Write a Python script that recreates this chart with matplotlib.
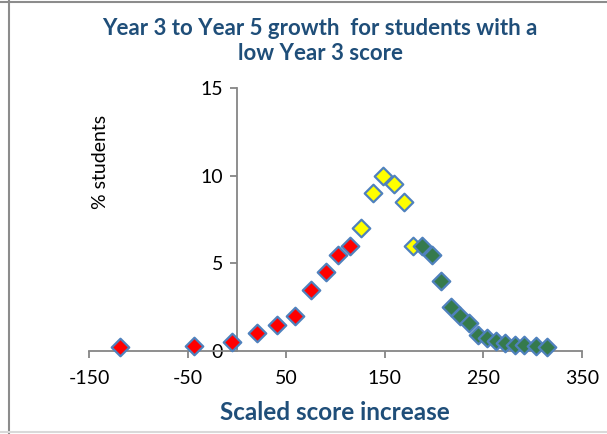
import matplotlib
matplotlib.use("Agg")
import matplotlib.pyplot as plt
from matplotlib.lines import Line2D

plt.rcParams["axes.unicode_minus"] = False

# Growth bins (scaled score increase) and share of students in each
red_x = [-119, -44, -5, 20.5, 41, 59, 75, 90, 102.5, 115]
red_y = [0.2, 0.3, 0.5, 1.0, 1.5, 2.0, 3.5, 4.5, 5.5, 6.0]

yellow_x = [126, 138, 148, 159, 169, 179]
yellow_y = [7.0, 9.0, 10.0, 9.5, 8.5, 6.0]

green_x = [188, 198, 207, 217, 226, 235.5, 245, 254, 263, 272, 282, 291, 303, 314]
green_y = [6.0, 5.5, 4.0, 2.5, 2.0, 1.6, 0.9, 0.75, 0.55, 0.45, 0.37, 0.37, 0.3, 0.25]

x_ticks = [-150, -50, 50, 150, 250, 350]
y_ticks = [0, 5, 10, 15]

title_color = "#1F4E79"
axis_color = "#868686"
edge_color = "#4F81BD"
font = ["Lato", "DejaVu Sans"]

fig = plt.figure(figsize=(6.07, 4.34), dpi=100)
ax = fig.add_axes([89 / 607, 1 - 351 / 434, (582 - 89) / 607, (351 - 88) / 434])

marker_kw = dict(marker="D", s=80, edgecolors=edge_color, linewidths=1.6, zorder=3, clip_on=False)
ax.scatter(red_x, red_y, c="#FF0000", **marker_kw)
ax.scatter(yellow_x, yellow_y, c="#FFFF00", **marker_kw)
ax.scatter(green_x, green_y, c="#357A4C", **marker_kw)

ax.set_xlim(-150, 350)
ax.set_ylim(0, 15)
ax.set_xticks(x_ticks)
ax.set_yticks(y_ticks)

for side in ("top", "right"):
    ax.spines[side].set_visible(False)
ax.spines["left"].set_position(("data", 0))
for side in ("left", "bottom"):
    ax.spines[side].set_color(axis_color)
    ax.spines[side].set_linewidth(1.3)
ax.tick_params(axis="both", colors=axis_color, length=5, width=1.3,
               labelcolor="black", labelsize=14, direction="out")
ax.tick_params(axis="x", pad=9)
ax.tick_params(axis="y", pad=5)
for lab in ax.get_xticklabels() + ax.get_yticklabels():
    lab.set_family(font)

fig.text(320 / 607, 1 - 41 / 434, "Year 3 to Year 5 growth  for students with a\nlow Year 3 score",
         ha="center", va="center", fontsize=16, fontweight="bold", color=title_color,
         family=font, linespacing=1.2)
fig.text(335 / 607, 1 - 412 / 434, "Scaled score increase", ha="center", va="center",
         fontsize=17.5, fontweight="bold", color=title_color, family=font)
fig.text(101 / 607, 1 - 162 / 434, "% students", ha="center", va="center", rotation=90,
         fontsize=14, color="black", family=font)

# chart frame
fig.add_artist(Line2D([0, 1], [1 - 1.5 / 434] * 2, transform=fig.transFigure, color="#8C8C8C", lw=1.5))
fig.add_artist(Line2D([8.5 / 607] * 2, [0, 1], transform=fig.transFigure, color="#8C8C8C", lw=1.5))
fig.add_artist(Line2D([0, 1], [1 - 432 / 434] * 2, transform=fig.transFigure, color="#D9D9D9", lw=1.5))

fig.savefig("out.png", dpi=100, facecolor="white")
